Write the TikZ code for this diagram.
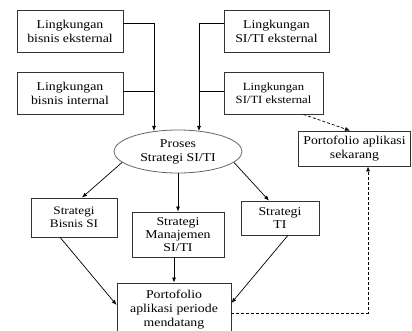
\documentclass[tikz,border=0pt]{standalone}
\usepackage{fontspec}
\setmainfont[FakeStretch=1.15]{Liberation Serif}
\usetikzlibrary{shapes.geometric,arrows.meta,calc}
\begin{document}
\begin{tikzpicture}[x=1pt,y=-1pt,
  box/.style={draw=black!80, line width=0.8pt, rectangle, align=center, inner sep=0pt,
    font=\fontsize{12}{14}\selectfont},
  arr/.style={-{Latex[length=5pt,width=4pt]}, line width=0.7pt},
  dsh/.style={dashed, dash pattern=on 3pt off 2pt, line width=0.7pt}]
\useasboundingbox (0,0) rectangle (412,331);
\fill[white] (0,0) rectangle (412,331);

\node[box, minimum width=106pt, minimum height=42pt] (A) at (70,31) {Lingkungan\\bisnis eksternal};
\node[box, minimum width=106pt, minimum height=42pt] (B) at (70,93) {Lingkungan\\bisnis internal};
\node[box, minimum width=105pt, minimum height=42pt] (C) at (276.5,31) {Lingkungan\\SI/TI eksternal};
\node[box, minimum width=99pt, minimum height=42pt, font=\fontsize{11}{13}\selectfont] (D) at (273.5,93) {Lingkungan\\SI/TI eksternal};
\node[box, draw=black!60, ellipse, minimum width=128pt, minimum height=43pt] (Pr) at (178,151.5) {Proses\\Strategi SI/TI};
\node[box, minimum width=112pt, minimum height=35pt] (E) at (354.5,148.5) {Portofolio aplikasi\\sekarang};
\node[box, minimum width=86pt, minimum height=39pt, font=\fontsize{11.5}{13.3}\selectfont] (F) at (74,217.5) {Strategi\\Bisnis SI};
\node[box, minimum width=92pt, minimum height=45pt, font=\fontsize{12}{13.3}\selectfont] (G) at (178,234.5) {Strategi\\Manajemen\\SI/TI};
\node[box, minimum width=78pt, minimum height=34pt, font=\fontsize{12}{13.3}\selectfont] (H) at (280,218) {Strategi\\TI};
\node[box, minimum width=114pt, minimum height=54pt] (P) at (174,310) {Portofolio\\aplikasi periode\\mendatang};

% junction coordinates
\coordinate (pe1) at (154,131);
\coordinate (pe2) at (199,131);
\coordinate (a1) at ($(A.north east)!0.31!(A.south east)$);
\coordinate (b1) at ($(B.north east)!0.45!(B.south east)$);
\coordinate (c1) at ($(C.north west)!0.31!(C.south west)$);
\coordinate (d1) at ($(D.north west)!0.45!(D.south west)$);

\draw[arr] (a1) -| (pe1);
\draw[line width=0.7pt] (b1) -- (b1 -| pe1);
\draw[arr] (c1) -| (pe2);
\draw[line width=0.7pt] (d1) -- (d1 -| pe2);

\draw[arr] (Pr.191) -- ($(F.north)+(8,0)$);
\draw[arr] (Pr.south) -- (G.north);
\draw[arr] (Pr.349) -- ($(H.north west)!0.36!(H.north east)$);
\draw[arr] (G.south -| P.north) -- (P.north);
\draw[arr] ($(F.south west)!0.34!(F.south east)$) -- ([yshift=5pt]P.west);
\draw[arr] ($(H.south west)!0.6!(H.south east)$) -- ([yshift=7pt]P.east);

\coordinate (e1) at ($(E.south west)!0.62!(E.south east)$);
\draw[arr, dsh] ([yshift=-3pt]P.east) -| (e1);
\draw[arr, dsh] ($(D.south west)!0.8!(D.south east)$) -- ($(E.north west)!0.46!(E.north east)$);
\end{tikzpicture}
\end{document}
